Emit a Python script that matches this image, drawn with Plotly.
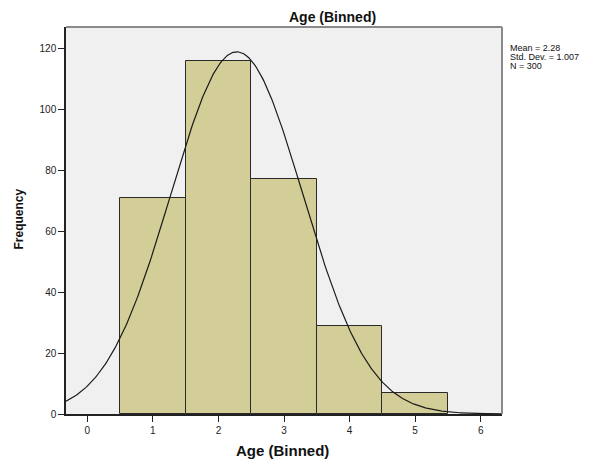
import numpy as np
import plotly.graph_objects as go

categories = [1, 2, 3, 4, 5]
frequencies = [71, 116, 77, 29, 7]
mean_val = 2.28
std_val = 1.007
n_val = 300
x_ticks = [0, 1, 2, 3, 4, 5, 6]
y_ticks = [0, 20, 40, 60, 80, 100, 120]

FONT = "Liberation Sans, Arial, sans-serif"

# plot box on screen (page body adds an 8px offset)
L, R, T, B = 66, 502, 27, 414
OFF = 8
W, H = 600, 461
PW, PH = R - L, B - T


def px(x):
    return (x - L) / PW


def py(y):
    return (B - y) / PH


fig = go.Figure()
fig.add_trace(go.Bar(
    x=categories, y=frequencies, width=1.0,
    marker=dict(color="#D3CE98", line=dict(color="#2a2a2a", width=1)),
    hoverinfo="x+y", showlegend=False,
))

xs = np.linspace(-0.325, 6.325, 400)
ys = n_val / (std_val * np.sqrt(2 * np.pi)) * np.exp(-0.5 * ((xs - mean_val) / std_val) ** 2)
fig.add_trace(go.Scatter(x=xs, y=ys, mode="lines", line=dict(color="#1a1a1a", width=1.2),
                         showlegend=False, hoverinfo="skip"))

stats_lines = [f"Mean = {mean_val}", f"Std. Dev. = {std_val}", f"N = {n_val}"]
annotations = [
    dict(text="<b>Age (Binned)</b>", xref="paper", yref="paper", x=px(332), y=py(17),
         xanchor="center", yanchor="middle", showarrow=False,
         font=dict(size=14, color="#111111")),
    dict(text="<b>Age (Binned)</b>", xref="paper", yref="paper", x=px(282), y=py(450.5),
         xanchor="center", yanchor="middle", showarrow=False,
         font=dict(size=15, color="#111111")),
    dict(text="<b>Frequency</b>", xref="paper", yref="paper", x=px(18.5), y=py(219),
         xanchor="center", yanchor="middle", showarrow=False, textangle=-90,
         font=dict(size=12, color="#111111")),
]
for i, s in enumerate(stats_lines):
    annotations.append(dict(text=s, xref="paper", yref="paper", x=px(508), y=py(48 + 9 * i),
                            xanchor="left", yanchor="middle", showarrow=False,
                            font=dict(size=9, color="#111111")))

shapes = [
    dict(type="line", xref="paper", yref="paper", x0=0, x1=1, y0=1, y1=1,
         line=dict(color="#8a8a8a", width=2)),
    dict(type="line", xref="paper", yref="paper", x0=1, x1=1, y0=0, y1=1,
         line=dict(color="#8a8a8a", width=2)),
]

fig.update_layout(
    width=W, height=H,
    margin=dict(l=L - OFF, r=W - (L - OFF) - PW, t=T - OFF, b=H - (T - OFF) - PH, autoexpand=False),
    paper_bgcolor="white", plot_bgcolor="#F0F0F0",
    bargap=0,
    font=dict(family=FONT, size=10, color="#222222"),
    xaxis=dict(range=[-0.325, 6.325], tickvals=x_ticks, ticks="outside", ticklen=6,
               tickcolor="#222222", showgrid=False, zeroline=False, automargin=False,
               showline=True, linecolor="#222222", linewidth=1.5),
    yaxis=dict(range=[0, 127], tickvals=y_ticks, ticks="outside", ticklen=6,
               tickcolor="#222222", showgrid=False, zeroline=False, automargin=False,
               showline=True, linecolor="#222222", linewidth=1.5),
    annotations=annotations,
    shapes=shapes,
)

fig.write_html("out.html")
